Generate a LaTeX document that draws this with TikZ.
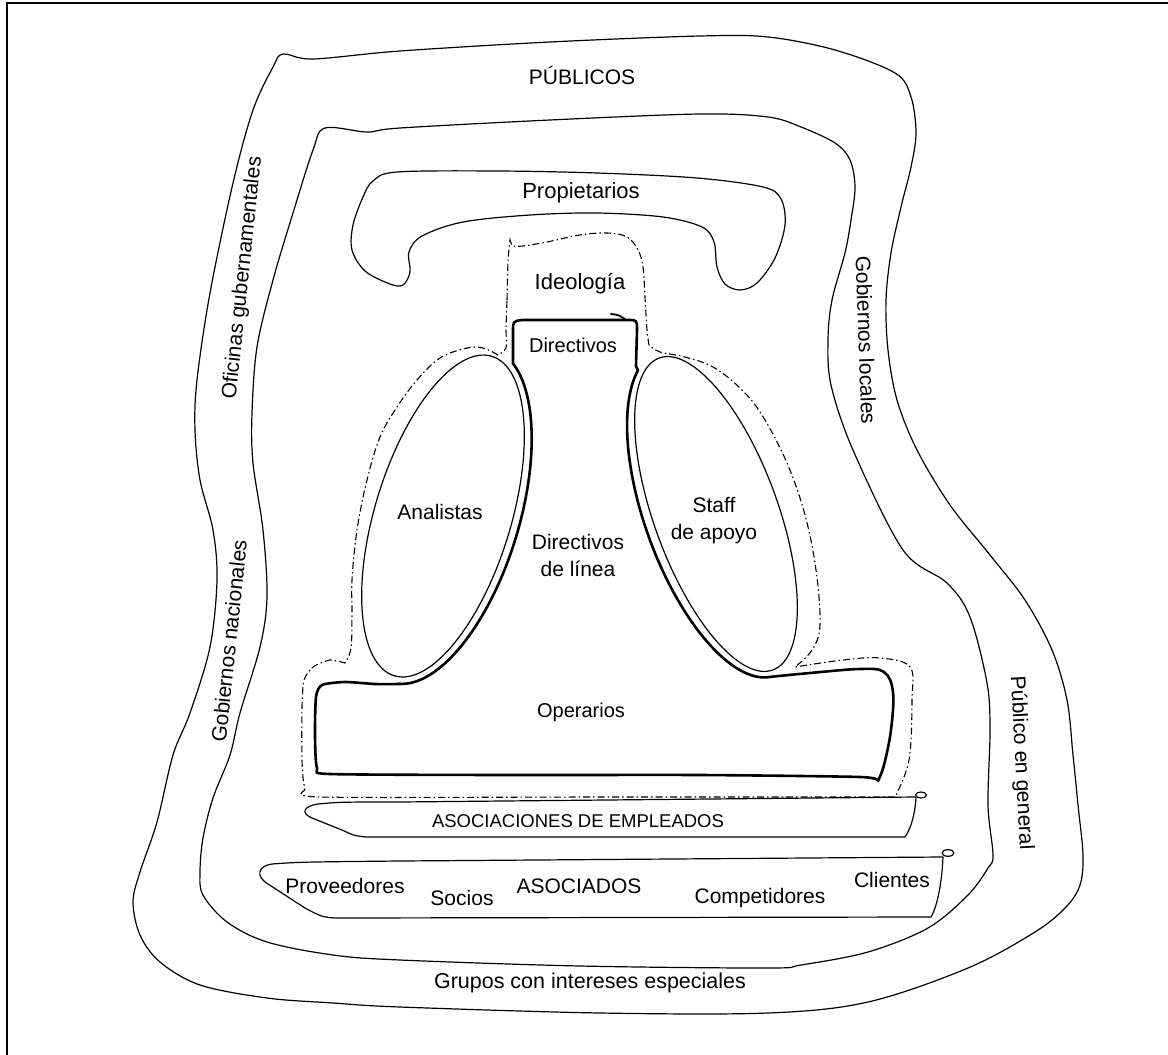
\documentclass[tikz,border=0pt]{standalone}
\usepackage{fontspec}
\setmainfont{Liberation Sans}
\begin{document}
\begin{tikzpicture}[x=1pt,y=-1pt,
  band/.style={line width=1.2pt, line join=round},
  heavy/.style={line width=2.6pt, line join=round, line cap=round},
  dashdot/.style={line width=1.1pt, dash pattern=on 7pt off 3pt on 1.5pt off 3pt},
  frame/.style={line width=2.6pt},
  lbl/.style={inner sep=0pt, font=\fontsize{21}{27}\selectfont},
]
\useasboundingbox (0,0) rectangle (1168,1055);

% frame (top and left edges)
\draw[frame] (7,1055) -- (7,3) -- (1168,3);

% outer band: publics
\draw[band] plot[smooth cycle, tension=0.55] coordinates {
  (283,54) (313,59) (400,51) (550,42) (700,36) (768,37) (835,50) (895,73)
  (911,97) (916,133) (911,167) (901,207) (891,253) (886,300) (888,350)
  (897,400) (917,450) (950,505) (990,555) (1025,600) (1052,650) (1067,700)
  (1073,755) (1078,805) (1083,855) (1080,885) (1066,907) (1035,932)
  (968,968) (868,1002) (768,1013) (600,1013) (400,1007) (333,1003)
  (267,998) (200,985) (160,962) (140,935) (133,902) (140,872) (157,822)
  (173,755) (190,713) (210,647) (217,580) (213,530) (200,480) (195,430)
  (197,380) (210,293) (233,183) (253,110) (273,67)};

% inner band
\draw[band] plot[smooth cycle, tension=0.55] coordinates {
  (325,128) (367,132) (400,128) (550,120) (700,114) (768,117) (801,127)
  (835,143) (850,160) (855,187) (851,220) (845,253) (832,300) (828,340)
  (831,385) (853,450) (903,550) (947,583) (970,617) (987,683) (990,730)
  (988,805) (993,855) (988,868) (968,895) (928,928) (868,952) (801,965)
  (768,968) (580,966) (400,960) (333,955) (267,942) (227,922) (203,895)
  (200,872) (203,838) (213,798) (230,755) (240,713) (260,647) (267,597)
  (263,530) (253,463) (252,413) (257,347) (273,280) (293,213) (313,150)};

% owners
\draw[band] plot[smooth cycle, tension=0.55] coordinates {
  (363,197) (373,181) (397,172) (497,171) (597,173) (697,178) (763,187)
  (781,199) (785,225) (775,258) (757,283) (740,290) (725,284) (717,267)
  (714,242) (702,227) (663,217) (597,213) (530,215) (463,222) (422,236)
  (409,252) (410,272) (403,285) (390,284) (365,271) (352,250) (353,225)};

% ideology boundary
\draw[dashdot]
  plot[smooth, tension=0.5] coordinates {(507,300) (508,262) (510,240)}
  -- plot[smooth, tension=0.6] coordinates {(512,246) (523,246) (547,242)
     (580,235) (607,233) (627,237) (638,250) (643,267) (645,297) (647,330) (649,345)}
  -- plot[smooth, tension=0.6] coordinates {(649,345) (660,352) (685,357)
     (713,367) (740,388) (762,415) (787,463) (805,515) (816,570) (820,625)
     (812,650) (795,667)}
  -- plot[smooth, tension=0.6] coordinates {(795,667) (843,660) (880,658)
     (910,667) (912,700) (909,760) (895,797)}
  -- plot[smooth, tension=0.4] coordinates {(895,797) (600,797) (320,797)
     (305,788) (302,760) (302,707) (304,680) (313,667) (330,660) (345,663)}
  -- plot[smooth, tension=0.6] coordinates {(345,663) (351,648) (352,613)
     (352,580) (357,530) (367,480) (380,437) (397,407) (417,380) (440,358)
     (467,348) (483,348) (498,355)}
  -- plot[smooth, tension=0.5] coordinates {(498,355) (506,348) (506,330) (507,300)};

% support units
\draw[band, rotate around={-17:(443,516)}] (443,516) ellipse [x radius=68, y radius=167];
\draw[band, rotate around={20:(716,514)}] (716,514) ellipse [x radius=62, y radius=166];

% apex, middle line and operating core
\draw[heavy] (513,364) -- (513,332) .. controls (513,321) .. (523,320)
  -- (628,320) .. controls (637,320) .. (637,330) -- (636,366)
  -- plot[domain=20:175, samples=60, variable=\t]
     ({716-172*cos(\t)*0.3420-71*sin(\t)*0.9397},{514-172*cos(\t)*0.9397+71*sin(\t)*0.3420})
  -- plot[smooth, tension=0.6] coordinates {(769,677) (810,673) (860,669)
     (884,672) (893,692) (891,730) (884,765) (878,781)}
  -- plot[smooth, tension=0.4] coordinates {(878,781) (860,777) (700,775)
     (500,775) (330,774) (317,768) (315,735) (316,697) (322,685) (345,682)
     (375,684) (401,684)}
  -- plot[domain=175:18, samples=60, variable=\t]
     ({443+174*cos(\t)*0.2924+76*sin(\t)*0.9563},{516-174*cos(\t)*0.9563+76*sin(\t)*0.2924})
  -- cycle;
\draw[heavy, line width=1.8pt] (611,314) .. controls (619,315) .. (626,320);

% employee associations
\draw[band] (916,797) .. controls (915,815) and (911,828) .. (905,837)
  -- (367,837) .. controls (355,836) .. (342,830) -- (312,818)
  .. controls (300,813) and (304,806) .. (318,804)
  .. controls (340,802) .. (400,802) -- cycle;
\draw[band] (921,795) ellipse [x radius=5.5, y radius=3];

% associates
\draw[band] (943,857) .. controls (942,880) and (938,905) .. (931,917)
  -- (335,918) .. controls (322,917) .. (305,908) -- (268,884)
  .. controls (255,876) and (258,866) .. (272,864)
  .. controls (300,862) .. (400,861) -- cycle;
\draw[band] (948,853) ellipse [x radius=6, y radius=3.3];

% labels
\node[lbl] (publicos) at (582,75) {PÚBLICOS};
\node[lbl, font=\fontsize{22}{26}\selectfont] (propietarios) at (581,193) {Propietarios};
\node[lbl, font=\fontsize{22}{26}\selectfont] (ideologia) at (580,284) {Ideología};
\node[lbl, font=\fontsize{20}{24}\selectfont] (directivos) at (573,345) {Directivos};
\node[lbl] (analistas) at (440,512) {Analistas};
\node[lbl, align=center] (staff) at (714,521) {Staff\\de apoyo};
\node[lbl, align=center] (linea) at (578,555) {Directivos\\de línea};
\node[lbl, font=\fontsize{20}{24}\selectfont] (operarios) at (581,712) {Operarios};
\node[lbl, font=\fontsize{18.5}{22}\selectfont] (asocemp) at (578,821) {ASOCIACIONES DE EMPLEADOS};
\node[lbl] (proveedores) at (345,886) {Proveedores};
\node[lbl] (socios) at (462,898) {Socios};
\node[lbl] (asociados) at (579,886) {ASOCIADOS};
\node[lbl] (competidores) at (760,898) {Competidores};
\node[lbl] (clientes) at (892,880) {Clientes};
\node[lbl, font=\fontsize{21.5}{26}\selectfont] (grupos) at (590,983) {Grupos con intereses especiales};
\node[lbl, rotate=84] (oficinas) at (243,278) {Oficinas gubernamentales};
\node[lbl, rotate=84] (nacionales) at (229,641) {Gobiernos nacionales};
\node[lbl, rotate=-88] (locales) at (866,340) {Gobiernos locales};
\node[lbl, rotate=-87] (general) at (1021,763) {Público en general};
\end{tikzpicture}
\end{document}
